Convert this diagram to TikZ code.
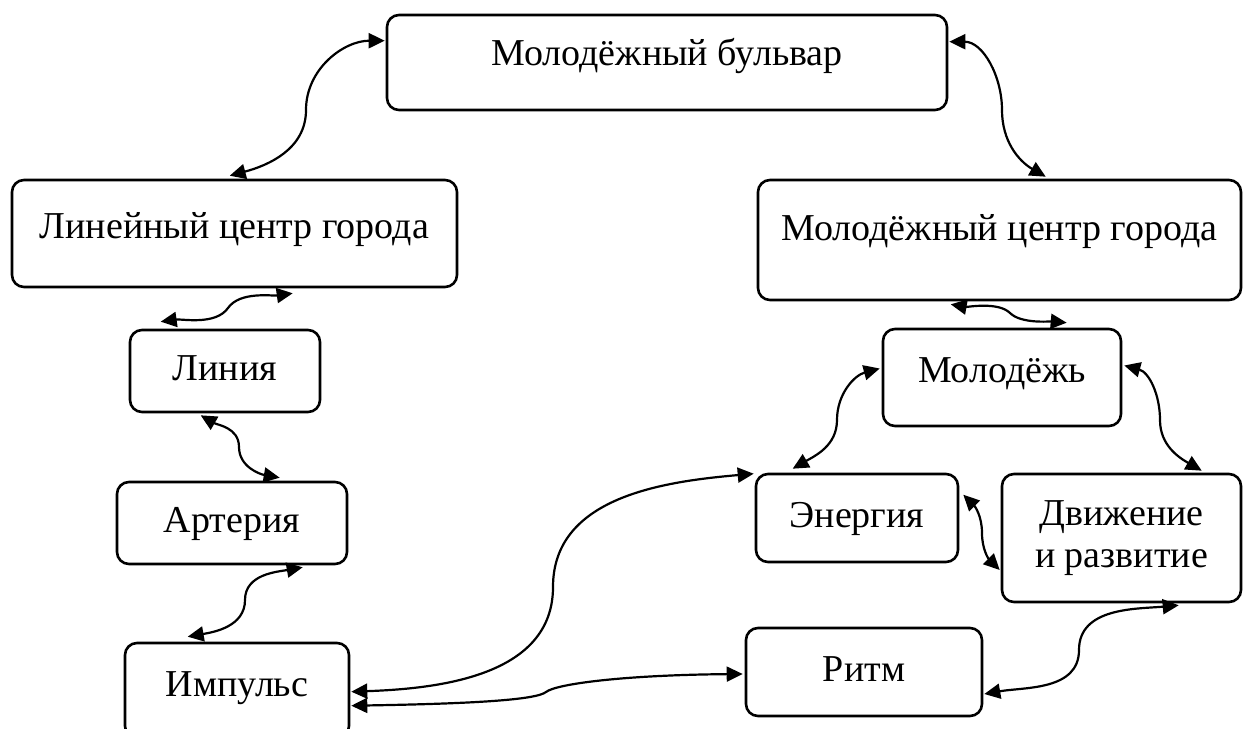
\documentclass[tikz,border=0pt]{standalone}
\usepackage{fontspec}
\setmainfont{Liberation Serif}
\usetikzlibrary{arrows.meta,calc}

\tikzset{
  box/.style={draw, line width=1.3pt, rounded corners=6pt, align=center, inner sep=0pt,
    font=\fontsize{19}{21}\selectfont},
  oneline/.style={text height=13pt, text depth=#1},
  oneline/.default=4pt,
  link/.style={line width=1.1pt,
    {Triangle[length=8pt,width=7.5pt]}-{Triangle[length=8pt,width=7.5pt]}}
}

\begin{document}
\begin{tikzpicture}[x=0.5pt,y=-0.5pt]
\useasboundingbox (0,0) rectangle (1249,729);
% boxes
\node[box,oneline=10.5pt,minimum width=280pt,minimum height=47.5pt] (bulvar) at (667,62.5) {Молодёжный бульвар};
\node[box,oneline=8.5pt,minimum width=222.5pt,minimum height=53.5pt] (lincentr) at (234.5,233.5) {Линейный центр города};
\node[box,oneline=13pt,minimum width=241.5pt,minimum height=60pt] (molcentr) at (999.5,240) {Молодёжный центр города};
\node[box,oneline,minimum width=95pt,minimum height=41pt] (liniya) at (225,371) {Линия};
\node[box,oneline=8.5pt,minimum width=119pt,minimum height=48.5pt] (molodezh) at (1002,377.5) {Молодёжь};
\node[box,oneline,minimum width=115pt,minimum height=41pt] (arteriya) at (232,523) {Артерия};
\node[box,oneline,minimum width=101pt,minimum height=44pt] (energiya) at (857,518) {Энергия};
\node[box,minimum width=119.5pt,minimum height=64pt] (dvizh) at (1121.5,538) {Движение\\и развитие};
\node[box,oneline,minimum width=118pt,minimum height=44pt] (ritm) at (864,672) {Ритм};
\node[box,oneline=7.5pt,minimum width=112pt,minimum height=47.5pt] (impuls) at (237,690.5) {Импульс};
% connectors
\draw[link] ($(bulvar.north west)+(-1,27)$) to[out=180,in=90] (306,110) to[out=270,in=15] ($(lincentr.north west)+(219,-3)$);
\draw[link] ($(bulvar.north east)+(1,28)$) to[out=0,in=90] (1002,110) to[out=270,in=150] ($(molcentr.north west)+(289,-2)$);
\draw[link] ($(lincentr.south west)+(282,5)$) to[out=188,in=55,looseness=0.8] (228,308) to[out=235,in=8,looseness=0.8] ($(liniya.north west)+(32,-7)$);
\draw[link] ($(molcentr.south west)+(194,3)$) to[out=350,in=135,looseness=0.7] (1010,313) to[out=315,in=175,looseness=0.7] ($(molodezh.north west)+(185,-5)$);
\draw[link] ($(liniya.south west)+(72,2)$) to[out=330,in=90] (239,447) to[out=270,in=170] ($(arteriya.north west)+(164,-3)$);
\draw[link] ($(arteriya.south west)+(187,2)$) to[out=190,in=90] (245,600) to[out=270,in=10] ($(impuls.north west)+(64,-5)$);
\draw[link] ($(impuls.north east)+(1,50)$) to[out=2,in=270] (553,587) to[out=90,in=185] ($(energiya.north west)+(-1,1)$);
\draw[link] ($(impuls.north east)+(1,64)$) .. controls +(120,-2) and +(-10,8) .. (546,692) .. controls +(10,-8) and +(-120,1) .. ($(ritm.west)+(-2,2)$);
\draw[link] ($(molodezh.west)+(-2,-9)$) to[out=195,in=90] (837,420) to[out=270,in=30] ($(energiya.north west)+(38,-4)$);
\draw[link] ($(molodezh.east)+(2,-12)$) to[out=345,in=90] (1160,420) to[out=270,in=150] ($(dvizh.north west)+(201,-2)$);
\draw[link] ($(energiya.north east)+(4,22)$) to[out=315,in=90] (982,533) to[out=270,in=135] ($(dvizh.west)+(-1,32)$);
\draw[link] ($(dvizh.south west)+(178,2)$) to[out=185,in=90] (1079,650) to[out=270,in=10] ($(ritm.east)+(1,22)$);
\end{tikzpicture}
\end{document}
